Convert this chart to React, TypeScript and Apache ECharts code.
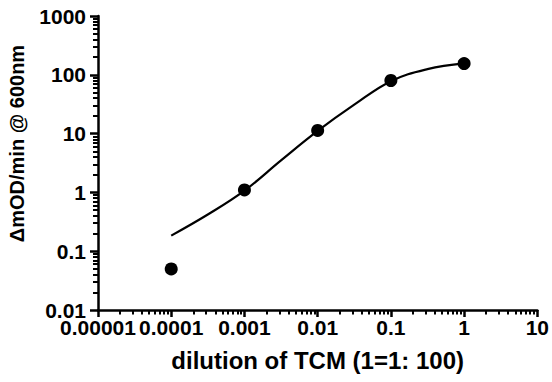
import React, { useEffect, useRef } from "react";
import * as echarts from "echarts";

const xTickLabels = ["0.00001", "0.0001", "0.001", "0.01", "0.1", "1", "10"];
const yTickLabels = ["0.01", "0.1", "1", "10", "100", "1000"];

const dilution = [0.0001, 0.001, 0.01, 0.1, 1];
const rate = [0.05, 1.1, 11.3, 80, 155];

const curveX = [0.0001, 0.000316, 0.001, 0.00316, 0.01, 0.0316, 0.1, 0.316, 1];
const curveY = [0.184, 0.42, 1.07, 3.5, 11.1, 31, 78, 125, 156];

const minorMult = [2, 3, 4, 5, 6, 7, 8, 9];
const xDecades = [0.00001, 0.0001, 0.001, 0.01, 0.1, 1];
const yDecades = [0.01, 0.1, 1, 10, 100];

const xTitle = "dilution of TCM (1=1: 100)";
const yTitle = "ΔmOD/min @ 600nm";

const FONT = "'Liberation Sans', Arial, Helvetica, sans-serif";

export default function App() {
  const ref = useRef<HTMLDivElement>(null);
  useEffect(() => {
    document.body.style.margin = "0";
    const chart = echarts.init(ref.current!, null, { renderer: "svg" });
    const labelFor = (labels: string[], min: number) => (v: number) => {
      const i = Math.round(Math.log10(v) - Math.log10(min));
      return labels[i] ?? "";
    };
    const xMinorVals: number[] = [];
    xDecades.forEach((d) => minorMult.forEach((m) => xMinorVals.push(d * m)));
    const yMinorVals: number[] = [];
    yDecades.forEach((d) => minorMult.forEach((m) => yMinorVals.push(d * m)));

    const labelStyle = {
      color: "#000",
      fontFamily: FONT,
      fontWeight: "bold",
      fontSize: 21,
    };

    chart.setOption({
      animation: false,
      grid: { left: 98, right: 14, top: 16, bottom: 72, containLabel: false },
      xAxis: [
        {
          type: "log",
          logBase: 10,
          min: 0.00001,
          max: 10,
          interval: 1,
          position: "bottom",
          name: xTitle,
          nameLocation: "middle",
          nameGap: 38,
          nameTextStyle: { color: "#000", fontFamily: FONT, fontWeight: "bold", fontSize: 24 },
          axisLine: { lineStyle: { color: "#000", width: 2.5 } },
          axisTick: { length: 7, lineStyle: { color: "#000", width: 2.5 } },
          axisLabel: { ...labelStyle, margin: 7, formatter: labelFor(xTickLabels, 0.00001) },
          splitLine: { show: false },
          minorTick: { show: false },
          z: 3,
        },
        {
          type: "log",
          logBase: 10,
          min: 0.00001,
          max: 10,
          position: "bottom",
          offset: 0,
          axisLine: { show: false },
          axisTick: {
            show: true,
            length: 4.5,
            customValues: xMinorVals,
            lineStyle: { color: "#000", width: 2 },
          },
          axisLabel: { show: false },
          splitLine: { show: false },
          minorTick: { show: false },
        },
      ],
      yAxis: [
        {
          type: "log",
          logBase: 10,
          min: 0.01,
          max: 1000,
          interval: 1,
          position: "left",
          axisLine: { lineStyle: { color: "#000", width: 2.5 } },
          axisTick: { length: 8, lineStyle: { color: "#000", width: 2.5 } },
          axisLabel: { ...labelStyle, margin: 12, formatter: labelFor(yTickLabels, 0.01) },
          splitLine: { show: false },
          minorTick: { show: false },
          z: 3,
        },
        {
          type: "log",
          logBase: 10,
          min: 0.01,
          max: 1000,
          position: "left",
          offset: 0,
          axisLine: { show: false },
          axisTick: {
            show: true,
            length: 5,
            customValues: yMinorVals,
            lineStyle: { color: "#000", width: 2 },
          },
          axisLabel: { show: false },
          splitLine: { show: false },
          minorTick: { show: false },
        },
      ],
      graphic: [
        {
          type: "text",
          x: 17,
          y: 143.5,
          rotation: Math.PI / 2,
          silent: true,
          style: {
            text: yTitle,
            align: "center",
            verticalAlign: "middle",
            fill: "#000",
            font: `bold 20px ${FONT}`,
          },
        },
      ],
      series: [
        {
          type: "line",
          xAxisIndex: 0,
          yAxisIndex: 0,
          data: curveX.map((x, i) => [x, curveY[i]]),
          smooth: 0.4,
          showSymbol: false,
          symbol: "none",
          lineStyle: { color: "#000", width: 2.2 },
          silent: true,
        },
        {
          type: "scatter",
          xAxisIndex: 0,
          yAxisIndex: 0,
          data: dilution.map((x, i) => [x, rate[i]]),
          symbol: "circle",
          symbolSize: 13,
          itemStyle: { color: "#000", opacity: 1 },
          silent: true,
        },
      ],
    });
    return () => chart.dispose();
  }, []);
  return <div ref={ref} style={{ width: 552, height: 382 }} />;
}
